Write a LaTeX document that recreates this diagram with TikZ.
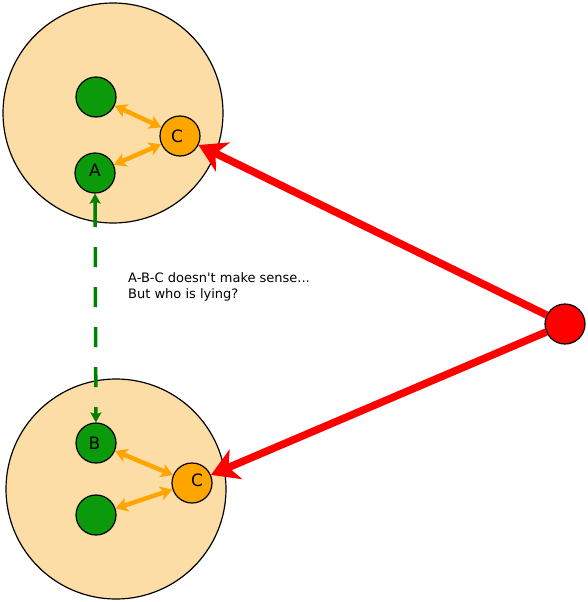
\documentclass[tikz,border=0pt]{standalone}
\usepackage{fontspec}
\setmainfont{DejaVu Sans}
\usetikzlibrary{arrows.meta}
\definecolor{sand}{HTML}{FDDDA6}
\definecolor{gball}{HTML}{0A9A0A}
\definecolor{oball}{HTML}{FFA500}
\definecolor{gline}{HTML}{008000}
\tikzset{
  world/.style={circle,draw=black,line width=1.2pt,fill=sand,minimum size=220pt,inner sep=0pt},
  ball/.style={circle,draw=black,line width=1.2pt,minimum size=40pt,inner sep=0pt,font=\fontsize{17}{17}\selectfont},
  gb/.style={ball,fill=gball},
  ob/.style={ball,fill=oball},
  rb/.style={ball,fill=red},
  oarrow/.style={oball,line width=4.5pt,{Stealth[length=12pt,width=14pt,inset=3pt]}-{Stealth[length=12pt,width=14pt,inset=3pt]}},
  rarrow/.style={red,line width=7.5pt,-{Stealth[length=27pt,width=32pt,inset=8pt]}},
  garrow/.style={gline,line width=3.5pt,dash pattern=on 26pt off 20pt on 20pt off 20pt on 20pt off 20pt on 20pt off 20pt on 20pt off 20pt on 30pt,{Stealth[length=10pt,width=11pt,inset=2pt]}-{Stealth[length=10pt,width=11pt,inset=2pt]}}
}
\begin{document}
\begin{tikzpicture}[x=1pt,y=-1pt]
\useasboundingbox (0,0) rectangle (588,602);
\node[world] (w1) at (113,113) {};
\node[world] (w2) at (116,489) {};
\node[gb] (g1) at (96,97) {};
\node[gb] (a) at (95,173) {\raisebox{5pt}{A}};
\node[ob] (c1) at (180,136) {\raisebox{-1pt}{\hspace{-6pt}C}};
\node[gb] (b) at (96,443) {\raisebox{0pt}{\hspace{-3pt}B}};
\node[gb] (g2) at (96,515) {};
\node[ob] (c2) at (192,483) {\raisebox{5pt}{\hspace{10pt}C}};
\node[rb] (r) at (565,324) {};
\draw[oarrow] (g1) -- (c1);
\draw[oarrow] (a) -- (c1);
\draw[oarrow] (b) -- (c2);
\draw[oarrow] (g2) -- (c2);
\draw[rarrow] (r) -- (c1);
\draw[rarrow] (r) -- (c2);
\draw[garrow] (a) -- (b);
\node[anchor=north west,align=left,inner sep=0pt,font=\fontsize{13}{16}\selectfont] (t) at (128,272) {A-B-C doesn\textquotesingle t make sense...\\But who is lying?};
\end{tikzpicture}
\end{document}
